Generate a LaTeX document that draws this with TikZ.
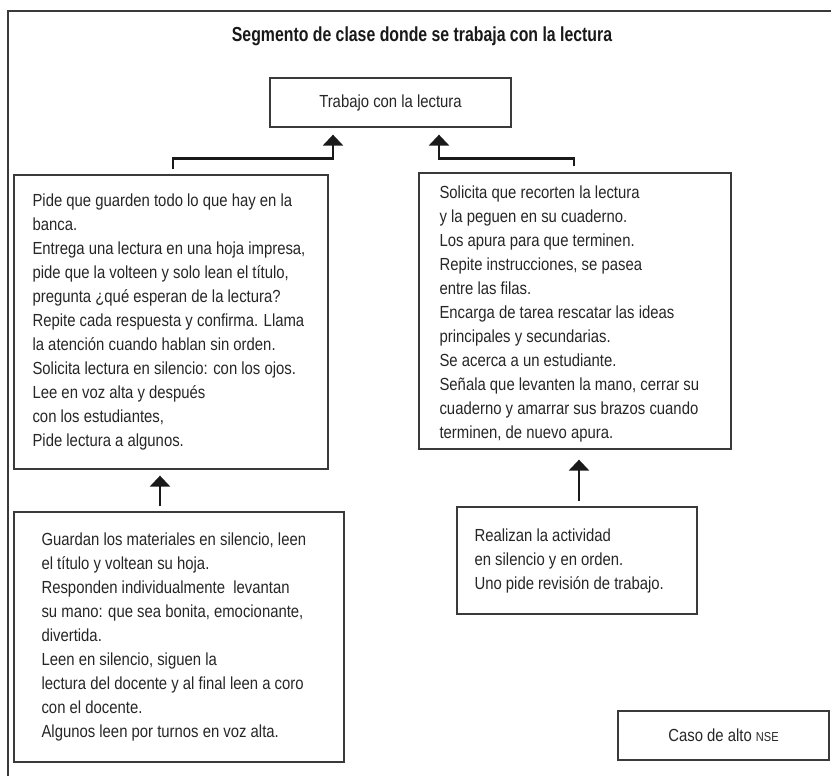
\documentclass[tikz,border=0pt]{standalone}
\usepackage{fontspec}
\setmainfont{Liberation Sans}[FakeStretch=0.85]
\newfontfamily\titlefont{Liberation Sans}[FakeStretch=0.78]
\usetikzlibrary{arrows.meta}
\definecolor{boxline}{HTML}{3A3A3A}
\definecolor{arrowcol}{HTML}{1A1A1A}
\tikzset{
  box/.style={draw=boxline, line width=1.3pt, inner sep=0pt},
  txt/.style={inner sep=0pt, align=left, anchor=west, font=\fontsize{17.5}{24}\selectfont, text=black!85},
  arr/.style={line width=2.8pt, arrowcol, -{Triangle[width=20pt,length=11pt]}},
  frameline/.style={line width=1.5pt, boxline},
}
\begin{document}
\begin{tikzpicture}[x=1pt,y=-1pt]
\useasboundingbox (0,0) rectangle (831,776);
% outer frame (only top and left edges visible)
\draw[frameline] (8,776) -- (8,11) -- (831,11);

\node[font=\titlefont\bfseries\fontsize{20.3}{22}\selectfont, text=black!90] (title) at (422,36) {Segmento de clase donde se trabaja con la lectura};

\node[box, minimum width=241pt, minimum height=49pt, font=\fontsize{17.5}{24}\selectfont, text=black!85] (T) at (390.5,102.5) {Trabajo con la lectura};

\node[box, minimum width=314pt, minimum height=294pt] (L) at (171,322) {};
\node[txt] (Lt) at ([xshift=19pt]L.west) {Pide que guarden todo lo que hay en la\\
banca.\\
Entrega una lectura en una hoja impresa,\\
pide que la volteen y solo lean el título,\\
pregunta ¿qué esperan de la lectura?\\
Repite cada respuesta y confirma. Llama\\
la atención cuando hablan sin orden.\\
Solicita lectura en silencio: con los ojos.\\
Lee en voz alta y después\\
con los estudiantes,\\
Pide lectura a algunos.};

\node[box, minimum width=312pt, minimum height=276pt] (R) at (575,311) {};
\node[txt, yshift=-3pt] (Rt) at ([xshift=21pt]R.west) {Solicita que recorten la lectura\\
y la peguen en su cuaderno.\\
Los apura para que terminen.\\
Repite instrucciones, se pasea\\
entre las filas.\\
Encarga de tarea rescatar las ideas\\
principales y secundarias.\\
Se acerca a un estudiante.\\
Señala que levanten la mano, cerrar su\\
cuaderno y amarrar sus brazos cuando\\
terminen, de nuevo apura.};

\node[box, minimum width=330pt, minimum height=250pt] (BL) at (179,637) {};
\node[txt] (BLt) at ([xshift=28pt]BL.west) {Guardan los materiales en silencio, leen\\
el título y voltean su hoja.\\
Responden individualmente \ levantan\\
su mano: que sea bonita, emocionante,\\
divertida.\\
Leen en silencio, siguen la\\
lectura del docente y al final leen a coro\\
con el docente.\\
Algunos leen por turnos en voz alta.};

\node[box, minimum width=240pt, minimum height=107pt] (RA) at (577,560.5) {};
\node[txt] (RAt) at ([xshift=18pt]RA.west) {Realizan la actividad\\
en silencio y en orden.\\
Uno pide revisión de trabajo.};

\node[box, minimum width=211pt, minimum height=49pt, font=\fontsize{17.5}{24}\selectfont, text=black!85] (NSE) at (723.5,735.5) {Caso de alto {\fontsize{13}{14}\selectfont NSE}};

% connectors
\coordinate (lstart) at ([xshift=2pt]L.north);
\coordinate (ltarget) at ([xshift=-57.5pt]T.south);
\draw[arr, shorten <=5pt, shorten >=7pt] (lstart) -- ++(0,-16) -| (ltarget);

\coordinate (rstart) at ([xshift=-1pt]R.north);
\coordinate (rtarget) at ([xshift=48.5pt]T.south);
\draw[arr, shorten <=6pt, shorten >=7pt] (rstart) -- ++(0,-14) -| (rtarget);

\coordinate (blstart) at ([xshift=-19pt]BL.north);
\draw[arr, shorten <=5pt, shorten >=6pt] (blstart) -- (blstart |- L.south);

\coordinate (rastart) at ([xshift=2pt]RA.north);
\draw[arr, shorten <=5pt, shorten >=10pt] (rastart) -- (rastart |- R.south);
\end{tikzpicture}
\end{document}
